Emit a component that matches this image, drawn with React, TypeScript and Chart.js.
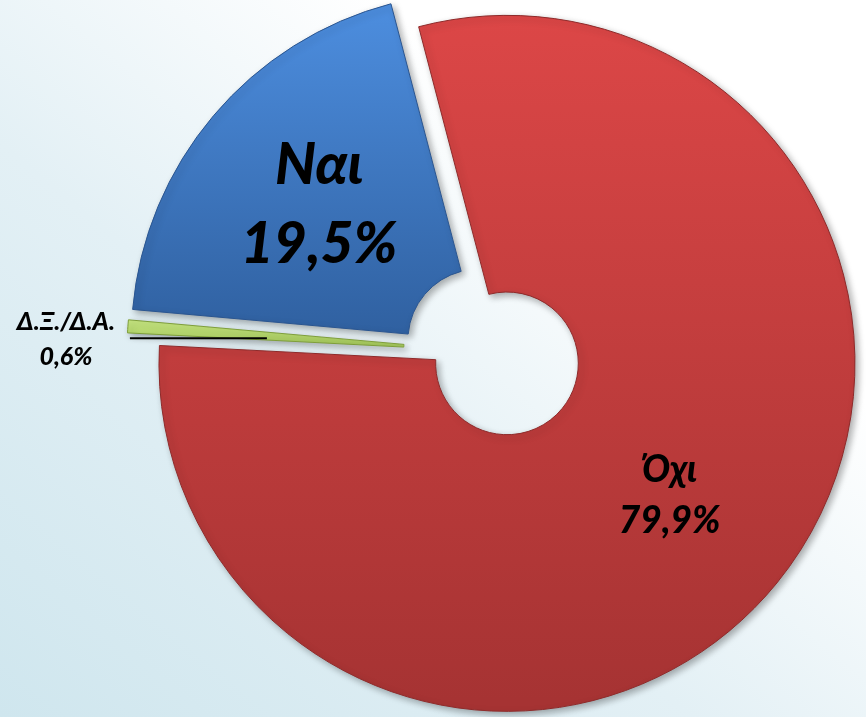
import React, { useEffect, useRef } from "react";
import { Chart, registerables } from "chart.js";

Chart.register(...registerables);

// ---- data ----
const CATEGORIES = ["Όχι", "Δ.Ξ./Δ.Α.", "Ναι"];
const VALUES = [79.9, 0.6, 19.5];

// ---- styles ----
const TOP_COLORS = ["#DD4747", "#C4E47E", "#4D8EDF"];
const BOTTOM_COLORS = ["#A63333", "#98BE4C", "#2E5E9D"];
const BORDER_COLORS = ["#8E2A2A", "#7E9E3A", "#2A5590"];
const LABEL_SIZES = [37, 25, 57];
const OUTER_RADIUS = 348;
const EXPLODE = 18;
const FONT_FAMILY = "Lato, 'Open Sans', 'Noto Sans', sans-serif";

const fmt = (v: number) => v.toFixed(1).replace(".", ",") + "%";

const explodePlugin = {
  id: "explodeSlices",
  afterDatasetsUpdate(chart: any) {
    const ca = chart.chartArea;
    const cx = (ca.left + ca.right) / 2;
    const cy = (ca.top + ca.bottom) / 2;
    const meta = chart.getDatasetMeta(0);
    meta.data.forEach((arc: any) => {
      const mid = (arc.startAngle + arc.endAngle) / 2;
      arc.x = cx + Math.cos(mid) * EXPLODE;
      arc.y = cy + Math.sin(mid) * EXPLODE;
    });
  },
  beforeDatasetsDraw(chart: any) {
    const ctx = chart.ctx;
    ctx.save();
    ctx.shadowColor = "rgba(0,0,0,0.32)";
    ctx.shadowBlur = 7;
    ctx.shadowOffsetX = 3;
    ctx.shadowOffsetY = 3;
  },
  afterDatasetsDraw(chart: any) {
    const ctx = chart.ctx;
    ctx.restore();
    const meta = chart.getDatasetMeta(0);
    ctx.save();
    ctx.fillStyle = "#000";
    ctx.textAlign = "center";
    ctx.textBaseline = "middle";
    meta.data.forEach((arc: any, i: number) => {
      const size = LABEL_SIZES[i];
      ctx.font = `italic 900 ${size}px ${FONT_FAMILY}`;
      const name = CATEGORIES[i];
      const val = fmt(VALUES[i]);
      const mid = (arc.startAngle + arc.endAngle) / 2;
      const span = arc.endAngle - arc.startAngle;
      if (span > 0.3) {
        const p = arc.getCenterPoint();
        const half = size * 0.69;
        ctx.fillText(name, p.x, p.y - half);
        ctx.fillText(val, p.x, p.y + half);
      } else {
        // outside label with a short leader line
        const ox = arc.x + Math.cos(mid) * arc.outerRadius;
        const oy = arc.y + Math.sin(mid) * arc.outerRadius;
        const lx = ox - 62;
        ctx.fillText(name, lx, oy - 4);
        ctx.fillText(val, lx, oy + 31);
        ctx.strokeStyle = "#000";
        ctx.lineWidth = 2;
        ctx.beginPath();
        ctx.moveTo(ox + 2, oy + 12);
        ctx.lineTo(ox + 139, oy + 12);
        ctx.stroke();
      }
    });
    ctx.restore();
  },
};

export default function App() {
  const canvasRef = useRef<HTMLCanvasElement | null>(null);

  useEffect(() => {
    const canvas = canvasRef.current;
    if (!canvas) return;
    const chart = new Chart(canvas, {
      type: "doughnut",
      data: {
        labels: CATEGORIES,
        datasets: [
          {
            data: VALUES,
            backgroundColor: (c: any) => {
              const chart = c.chart;
              const ca = chart.chartArea;
              const i = c.dataIndex;
              if (!ca || i === undefined) return TOP_COLORS[0];
              const cy = (ca.top + ca.bottom) / 2;
              let y0 = cy - OUTER_RADIUS;
              let y1 = cy + OUTER_RADIUS;
              if (i === 2) { y1 = cy; }
              if (i === 1) { y0 = cy - 30; y1 = cy + 5; }
              const g = chart.ctx.createLinearGradient(0, y0, 0, y1);
              g.addColorStop(0, TOP_COLORS[i]);
              g.addColorStop(1, BOTTOM_COLORS[i]);
              return g;
            },
            borderColor: BORDER_COLORS,
            borderWidth: 1,
          },
        ],
      },
      options: {
        animation: false,
        responsive: false,
        rotation: -14.7,
        cutout: "20.5%",
        radius: OUTER_RADIUS,
        layout: { padding: { left: 120, right: 0, top: 0, bottom: 13 } },
        plugins: {
          legend: { display: false },
          tooltip: { enabled: false },
        },
        events: [],
      } as any,
      plugins: [explodePlugin],
    });
    return () => chart.destroy();
  }, []);

  return (
    <div
      style={{
        position: "fixed",
        left: 0,
        top: 0,
        width: 866,
        height: 717,
        background:
          "linear-gradient(to top right, #CFE6EE 0%, #E3F0F5 40%, #FFFFFF 72%, #FFFFFF 100%)",
      }}
    >
      <canvas ref={canvasRef} width={866} height={717} style={{ display: "block" }} />
    </div>
  );
}
